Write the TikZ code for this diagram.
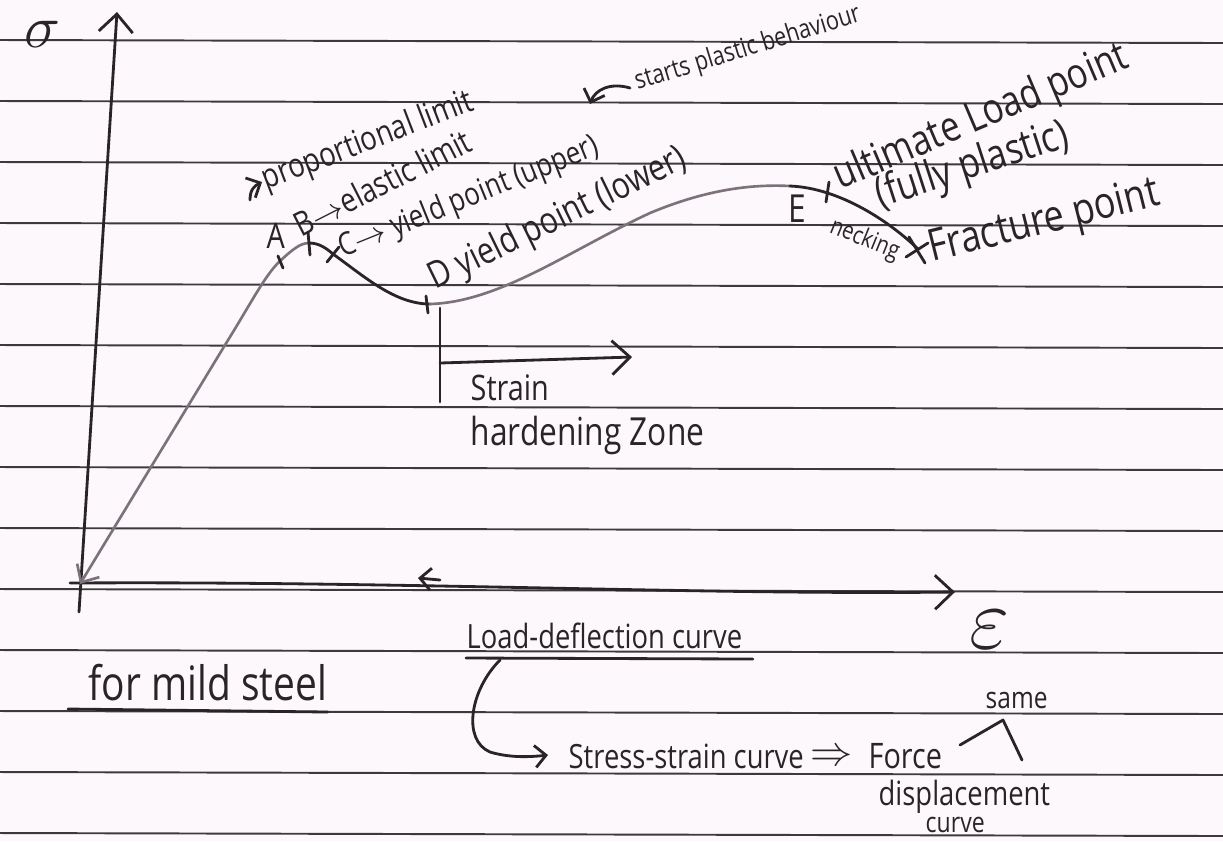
\documentclass[tikz,border=0pt]{standalone}
\usepackage{fontspec}
\setmainfont{Open Sans}[FakeStretch=0.82]
\usetikzlibrary{arrows.meta}

\definecolor{paper}{HTML}{FCF8FB}
\definecolor{rulegray}{HTML}{3C3A3C}
\definecolor{ink}{HTML}{2A2427}
\definecolor{pencil}{HTML}{7D727B}
\newcommand{\penfont}[1]{\fontsize{#1}{#1}\selectfont}

\begin{document}
\begin{tikzpicture}[x=0.1mm, y=-0.1mm,
		ruled/.style={draw=rulegray, line width=0.55pt},
		pen/.style={draw=ink, line width=0.8pt, line cap=round, line join=round},
		soft/.style={draw=pencil, line width=0.75pt, line cap=round},
		barb/.style={-{Straight Barb[length=1.8mm,width=3.4mm]}},
		smallbarb/.style={-{Straight Barb[length=1.1mm,width=2.2mm]}},
		note/.style={text=ink, inner sep=0pt, anchor=base west}]
	\useasboundingbox (0,0) rectangle (1223,841);
	\fill[paper] (0,0) rectangle (1223,841);
	% ruled lines of the page
	\foreach \y in {40,101,...,840}
		\draw[ruled] (0,\y) -- (1223,\y+3);

	% axes
	\coordinate (O) at (80,584);
	\coordinate (ybot) at (79,612);
	\coordinate (ytop) at (117,12);
	\coordinate (xleft) at (70,583);
	\coordinate (xend) at (955,592);
	\coordinate (xmid) at (418,578);
	\draw[pen, barb] (ybot) -- (ytop);
	\draw[pen, barb] (xleft) .. controls (400,581) and (700,595) .. (xend);
	\draw[pen, smallbarb] (440,580) -- (xmid);
	\node[text=ink, inner sep=1pt] (sigma) at (42,34) {\penfont{16}$\sigma$};
	\node[text=ink] (eps) at (990,630) {\penfont{26}$\varepsilon$};

	% stress-strain curve
	\coordinate (ptA) at (280,261);
	\coordinate (ptB) at (309,243);
	\coordinate (ptC) at (333,254);
	\coordinate (ptD) at (430,304);
	\coordinate (ptE) at (790,186);
	\coordinate (ptF) at (918,249);
	\draw[soft, {Straight Barb[length=1.4mm,width=2.6mm]}-] (O) -- (225,345) .. controls (250,305) and (265,275) .. (ptA) .. controls (292,250) and (300,243) .. (ptB);
	\draw[pen] (ptB) .. controls (318,243) and (325,247) .. (ptC) .. controls (365,277) and (395,304) .. (ptD);
	\draw[soft] (ptD) .. controls (500,302) and (570,250) .. (650,213) .. controls (705,190) and (750,184) .. (ptE);
	\draw[pen] (ptE) .. controls (840,188) and (890,222) .. (ptF);
	% marks on the curve
	\draw[pen] (278,256) -- (283,268);
	\draw[pen] (308,232) -- (310,255);
	\draw[pen] (327,262) -- (339,247);
	\draw[pen] (426,296) -- (428,313);
	\draw[pen] (829,182) -- (826,202);
	\draw[pen] (909,237) -- (925,263);
	\draw[pen] (906,257) -- (928,243);

	% labels of the points
	\node[note] (labA) at (266,248) {\penfont{10}A};
	\draw[pen, smallbarb] (250,200) .. controls (250,190) and (254,186) .. (262,182);
	\node[note, rotate=21] (prop) at (266,190) {\penfont{9.5}proportional limit};
	\node[note, rotate=27] (elastic) at (301,238) {\penfont{9.5}B$\rightarrow$elastic limit};
	\node[note, rotate=22] (upper) at (343,258) {\penfont{9}C$\rightarrow$ yield point (upper)};
	\node[note, rotate=26] (lower) at (435,290) {\penfont{10.5}D yield point (lower)};
	\draw[pen, smallbarb] (630,88) .. controls (610,82) and (595,90) .. (590,104);
	\node[note, rotate=17] (plastic) at (637,90) {\penfont{7.5}starts plastic behaviour};
	\node[note] (labE) at (788,222) {\penfont{11}E};
	\node[note, rotate=23] (ult) at (840,190) {\penfont{12}ultimate Load point};
	\node[note, rotate=18] (fully) at (880,208) {\penfont{12}(fully plastic)};
	\node[note, rotate=-22] (neck) at (828,232) {\penfont{7}necking};
	\node[note, rotate=14] (fract) at (932,262) {\penfont{12.5}Fracture point};

	% strain hardening zone
	\coordinate (shtop) at (440,308);
	\coordinate (shbot) at (440,402);
	\coordinate (shmid) at (440,363);
	\coordinate (shtip) at (632,357);
	\draw[pen] (shtop) -- (shbot);
	\draw[pen, barb] (shmid) -- (shtip);
	\node[note] (strain) at (470,400) {\penfont{10}Strain};
	\node[note] (harden) at (470,445) {\penfont{11}hardening Zone};

	% notes below the graph
	\node[note] (mild) at (88,700) {\penfont{13.5}for mild steel};
	\draw[pen] ([xshift=-2mm,yshift=-0.9mm]mild.base west) -- ([yshift=-1.2mm]mild.base east);
	\node[note] (ldc) at (466,648) {\penfont{9.5}Load-deflection curve};
	\draw[pen] ([yshift=-1mm]ldc.base west) -- ([xshift=1mm,yshift=-1.1mm]ldc.base east);
	\coordinate (ldtop) at (500,660);
	\coordinate (sstip) at (548,755);
	\draw[pen, smallbarb] (ldtop) .. controls (470,690) and (462,740) .. (490,752) .. controls (510,758) and (530,757) .. (sstip);
	\node[note] (ssc) at (568,768) {\penfont{9.5}Stress-strain curve};
	\node[text=ink, inner sep=1pt] (implies) at (832,758) {\penfont{12}$\Rightarrow$};
	\node[note] (force) at (868,768) {\penfont{10}Force};
	\node[note] (disp) at (878,805) {\penfont{9.5}displacement};
	\node[note] (curve) at (925,832) {\penfont{8}curve};
	\node[note] (same) at (985,708) {\penfont{8.5}same};
	\coordinate (capl) at (960,745);
	\coordinate (capt) at (1003,720);
	\coordinate (capr) at (1022,760);
	\draw[pen] (capl) -- (capt) -- (capr);
\end{tikzpicture}
\end{document}
